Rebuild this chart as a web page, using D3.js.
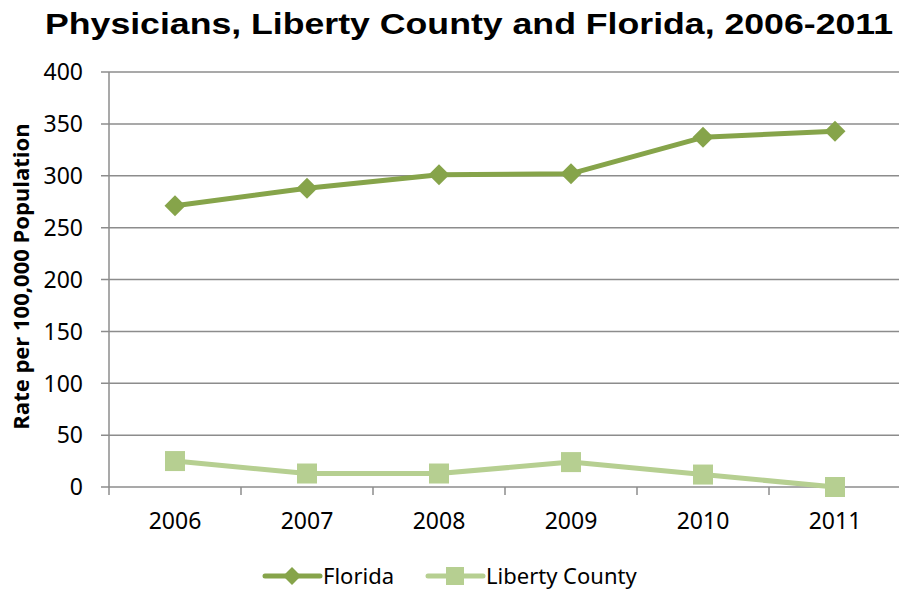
<!DOCTYPE html>
<html lang="en">
<head>
    <meta charset="UTF-8">
    <title>Physicians, Liberty County and Florida, 2006-2011</title>
    <script src="https://d3js.org/d3.v7.min.js"></script>
    <style>
        body {
            margin: 0;
            padding: 0;
            background: #fff;
        }
        svg {
            display: block;
        }
    </style>
</head>
<body>
    <svg id="chart"></svg>
    <script>
        const years = ["2006", "2007", "2008", "2009", "2010", "2011"];
        const florida = [271, 288, 301, 302, 337, 343];
        const liberty = [25, 13, 13, 24, 12, 0];
        const yTicks = [0, 50, 100, 150, 200, 250, 300, 350, 400];

        const width = 899;
        const height = 590;
        const margin = { top: 72, right: -2, bottom: 103, left: 109 };

        const floridaColor = "#86a44a";
        const libertyColor = "#b6cf91";
        const gridColor = "#8c8c8c";

        const svg = d3.select("#chart")
            .attr("width", width)
            .attr("height", height);

        const x = d3.scaleBand()
            .domain(years)
            .range([margin.left, width - margin.right]);

        const y = d3.scaleLinear()
            .domain([0, 400])
            .range([height - margin.bottom, margin.top]);

        // gridlines
        svg.append("g")
            .selectAll("line")
            .data(yTicks)
            .enter()
            .append("line")
            .attr("x1", margin.left - 8)
            .attr("x2", width - margin.right)
            .attr("y1", d => y(d))
            .attr("y2", d => y(d))
            .attr("stroke", gridColor)
            .attr("stroke-width", 1.5);

        // y axis line
        svg.append("line")
            .attr("x1", margin.left)
            .attr("x2", margin.left)
            .attr("y1", y(400))
            .attr("y2", y(0))
            .attr("stroke", gridColor)
            .attr("stroke-width", 1.5);

        // x axis ticks between categories
        const boundaries = years.map(d => x(d)).concat([x(years[years.length - 1]) + x.bandwidth()]);
        svg.append("g")
            .selectAll("line")
            .data(boundaries)
            .enter()
            .append("line")
            .attr("x1", d => d)
            .attr("x2", d => d)
            .attr("y1", y(0))
            .attr("y2", y(0) + 8)
            .attr("stroke", gridColor)
            .attr("stroke-width", 1.5);

        // y tick labels
        svg.append("g")
            .selectAll("text")
            .data(yTicks)
            .enter()
            .append("text")
            .attr("x", margin.left - 26)
            .attr("y", d => y(d))
            .attr("dy", "0.36em")
            .attr("text-anchor", "end")
            .style("font-family", "'Noto Sans', sans-serif")
            .style("font-size", "23px")
            .attr("fill", "#000")
            .text(d => d);

        // x tick labels
        svg.append("g")
            .selectAll("text")
            .data(years)
            .enter()
            .append("text")
            .attr("x", d => x(d) + x.bandwidth() / 2)
            .attr("y", y(0) + 42)
            .attr("text-anchor", "middle")
            .style("font-family", "'Noto Sans', sans-serif")
            .style("font-size", "23px")
            .attr("fill", "#000")
            .text(d => d);

        // y axis title
        svg.append("text")
            .attr("transform", `translate(29,${(y(0) + y(400)) / 2 - 3}) rotate(-90)`)
            .attr("text-anchor", "middle")
            .style("font-family", "'Open Sans', sans-serif")
            .style("font-weight", "bold")
            .style("font-size", "22px")
            .text("Rate per 100,000 Population");

        // title
        svg.append("text")
            .attr("x", 45)
            .attr("y", 34)
            .attr("textLength", 848)
            .attr("lengthAdjust", "spacingAndGlyphs")
            .style("font-family", "'Liberation Sans', Arial, sans-serif")
            .style("font-weight", "bold")
            .style("font-size", "29px")
            .text("Physicians, Liberty County and  Florida, 2006-2011");

        const line = d3.line()
            .x((d, i) => x(years[i]) + x.bandwidth() / 2)
            .y(d => y(d));

        // Liberty County
        svg.append("path")
            .datum(liberty)
            .attr("d", line)
            .attr("fill", "none")
            .attr("stroke", libertyColor)
            .attr("stroke-width", 5)
            .attr("stroke-linejoin", "round");

        svg.append("g")
            .selectAll("rect")
            .data(liberty)
            .enter()
            .append("rect")
            .attr("x", (d, i) => x(years[i]) + x.bandwidth() / 2 - 10)
            .attr("y", d => y(d) - 10)
            .attr("width", 20)
            .attr("height", 20)
            .attr("fill", libertyColor);

        // Florida
        svg.append("path")
            .datum(florida)
            .attr("d", line)
            .attr("fill", "none")
            .attr("stroke", floridaColor)
            .attr("stroke-width", 5)
            .attr("stroke-linejoin", "round");

        const diamond = d3.symbol().type(d3.symbolSquare).size(220);
        svg.append("g")
            .selectAll("path")
            .data(florida)
            .enter()
            .append("path")
            .attr("d", diamond)
            .attr("transform", (d, i) => `translate(${x(years[i]) + x.bandwidth() / 2},${y(d)}) rotate(45)`)
            .attr("fill", floridaColor);

        // legend
        const legendY = 576;
        const legend = svg.append("g");
        const items = [
            { name: "Florida", color: floridaColor, shape: "diamond", x0: 265 },
            { name: "Liberty County", color: libertyColor, shape: "square", x0: 428 }
        ];
        items.forEach(it => {
            legend.append("line")
                .attr("x1", it.x0)
                .attr("x2", it.x0 + 55)
                .attr("y1", legendY)
                .attr("y2", legendY)
                .attr("stroke", it.color)
                .attr("stroke-width", 5)
                .attr("stroke-linecap", "round");
            if (it.shape === "diamond") {
                legend.append("path")
                    .attr("d", d3.symbol().type(d3.symbolSquare).size(160))
                    .attr("transform", `translate(${it.x0 + 27},${legendY}) rotate(45)`)
                    .attr("fill", it.color);
            } else {
                legend.append("rect")
                    .attr("x", it.x0 + 27 - 9)
                    .attr("y", legendY - 9)
                    .attr("width", 18)
                    .attr("height", 18)
                    .attr("fill", it.color);
            }
            legend.append("text")
                .attr("x", it.x0 + 58)
                .attr("y", legendY)
                .attr("dy", "0.35em")
                .style("font-family", "'Noto Sans', sans-serif")
                .style("font-size", "22px")
                .text(it.name);
        });
    </script>
</body>
</html>
